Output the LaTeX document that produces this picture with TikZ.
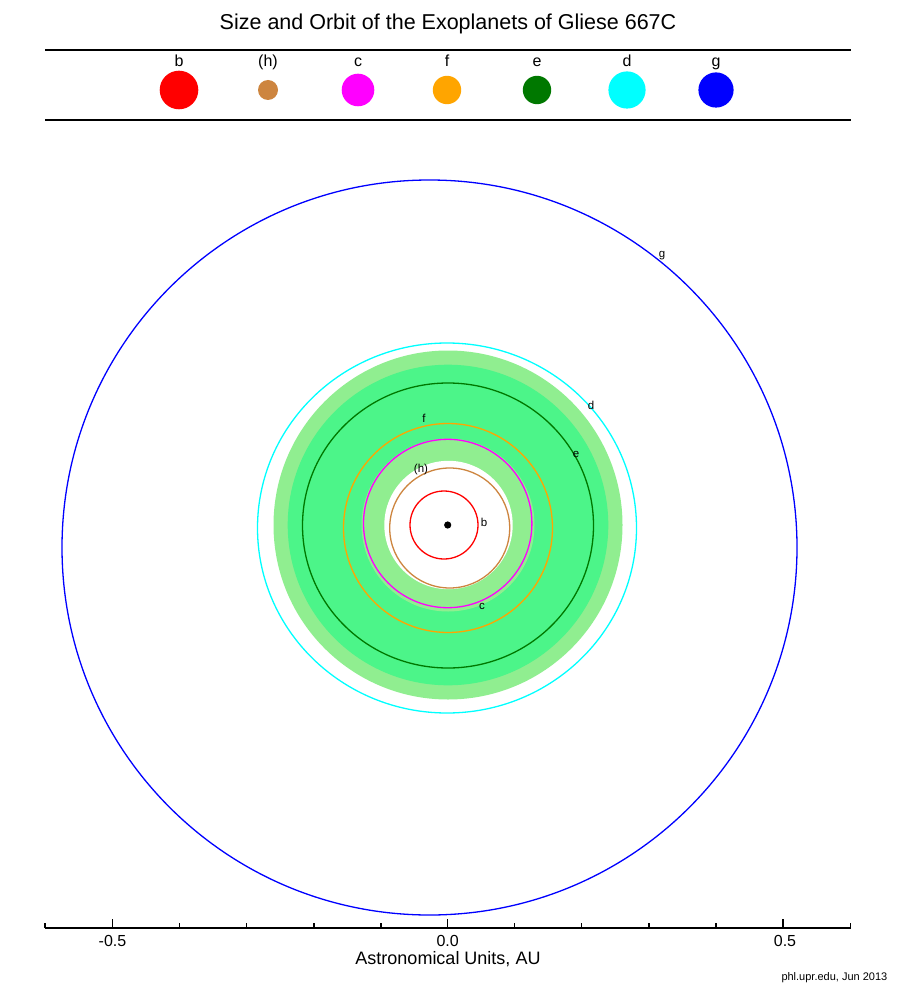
\documentclass[tikz,border=0pt]{standalone}
\usepackage{fontspec}
\setmainfont{Liberation Sans}
\definecolor{hpl}{RGB}{205,133,63}
\definecolor{eorb}{RGB}{0,120,0}
\definecolor{lgreen}{RGB}{144,238,144}
\definecolor{bgreen}{RGB}{76,245,137}
\definecolor{forb}{RGB}{255,165,0}
\definecolor{cpl}{RGB}{255,0,255}
\definecolor{dpl}{RGB}{0,255,255}
\definecolor{gpl}{RGB}{0,0,255}
\definecolor{bpl}{RGB}{255,0,0}
\tikzset{
  orbit/.style={line width=1.3pt},
  plab/.style={font=\fontsize{11.5}{13}\selectfont, inner sep=0pt, anchor=base},
  leglab/.style={font=\fontsize{16}{18}\selectfont, inner sep=0pt, anchor=base},
  ticklab/.style={font=\fontsize{16}{18}\selectfont, inner sep=0pt, anchor=base},
  rule/.style={line width=2pt},
  axisline/.style={line width=2pt},
  tickmark/.style={line width=1.5pt},
}
\begin{document}
\begin{tikzpicture}[x=1pt,y=-1pt]
\useasboundingbox (0,0) rectangle (896,1000);
% title
\node[font=\fontsize{21.5}{24}\selectfont, inner sep=0pt, anchor=base] (title) at (448,29.5) {Size and Orbit of the Exoplanets of Gliese 667C};
% legend
\draw[rule] (45,50) -- (851,50);
\draw[rule] (45,120) -- (851,120);
\fill[bpl] (179,90) circle (19.3);
\node[leglab] (lb) at (179,67) {b};
\fill[hpl] (268,90) circle (10);
\node[leglab] (lh) at (268,67) {(h)};
\fill[cpl] (358,90) circle (16.3);
\node[leglab] (lc) at (358,67) {c};
\fill[forb] (447,90) circle (14.2);
\node[leglab] (lf) at (447,67) {f};
\fill[eorb] (537,90) circle (14.2);
\node[leglab] (le) at (537,67) {e};
\fill[dpl] (627,90) circle (18.6);
\node[leglab] (ld) at (627,67) {d};
\fill[gpl] (716,90) circle (17.6);
\node[leglab] (lg) at (716,67) {g};
% orbits and habitable zone
\draw[orbit, gpl] (429.5,547.5) circle (367.5);
\draw[orbit, dpl] (447,528) ellipse [x radius=189.5, y radius=185];
\fill[lgreen] (448,525) circle (174.5);
\fill[bgreen] (448,525) circle (160.3);
\fill[lgreen] (448,525) circle (86.5);
\fill[white] (448.5,525) circle (64.2);
\draw[orbit, eorb] (448,525.5) ellipse [x radius=145.5, y radius=142.5];
\draw[orbit, forb] (448,528) circle (104.5);
\draw[orbit, cpl] (447.7,523.5) circle (84.2);
\draw[orbit, hpl] (449.7,528) circle (60);
\draw[orbit, bpl] (444,525) circle (34);
\fill[black] (447.7,525) circle (3.6);
% orbit labels
\node[plab] (ob) at (484,526) {b};
\node[plab] (oh) at (421,472.5) {(h)};
\node[plab] (oc) at (482,609.5) {c};
\node[plab] (of) at (424,422) {f};
\node[plab] (oe) at (576,457.5) {e};
\node[plab] (od) at (591,409) {d};
\node[plab] (og) at (662,257) {g};
% axis
\coordinate (axl) at (45,927.5);
\coordinate (axr) at (850.7,927.5);
\draw[axisline] (axl) -- (axr);
\draw[tickmark] (45,928) -- (45,922.5);
\draw[tickmark] (850.7,928) -- (850.7,922.5);
\foreach \x in {179.6,246.7,313.8,380.9,514.6,581.7,648.8,715.9}
  \draw[tickmark] (\x,928) -- (\x,922.5);
\foreach \x in {112.5,447.7,783}
  \draw[tickmark] (\x,928) -- (\x,918.5);
\node[ticklab] (tm) at (112.5,946.5) {-0.5};
\node[ticklab] (t0) at (447.7,946.5) {0.0};
\node[ticklab] (tp) at (785,946.5) {0.5};
\node[font=\fontsize{18}{20}\selectfont, inner sep=0pt, anchor=base] (axlab) at (448,964.5) {Astronomical Units, AU};
\node[font=\fontsize{11}{12}\selectfont, inner sep=0pt, anchor=base east] (credit) at (887.5,980.5) {phl.upr.edu, Jun 2013};
\end{tikzpicture}
\end{document}
